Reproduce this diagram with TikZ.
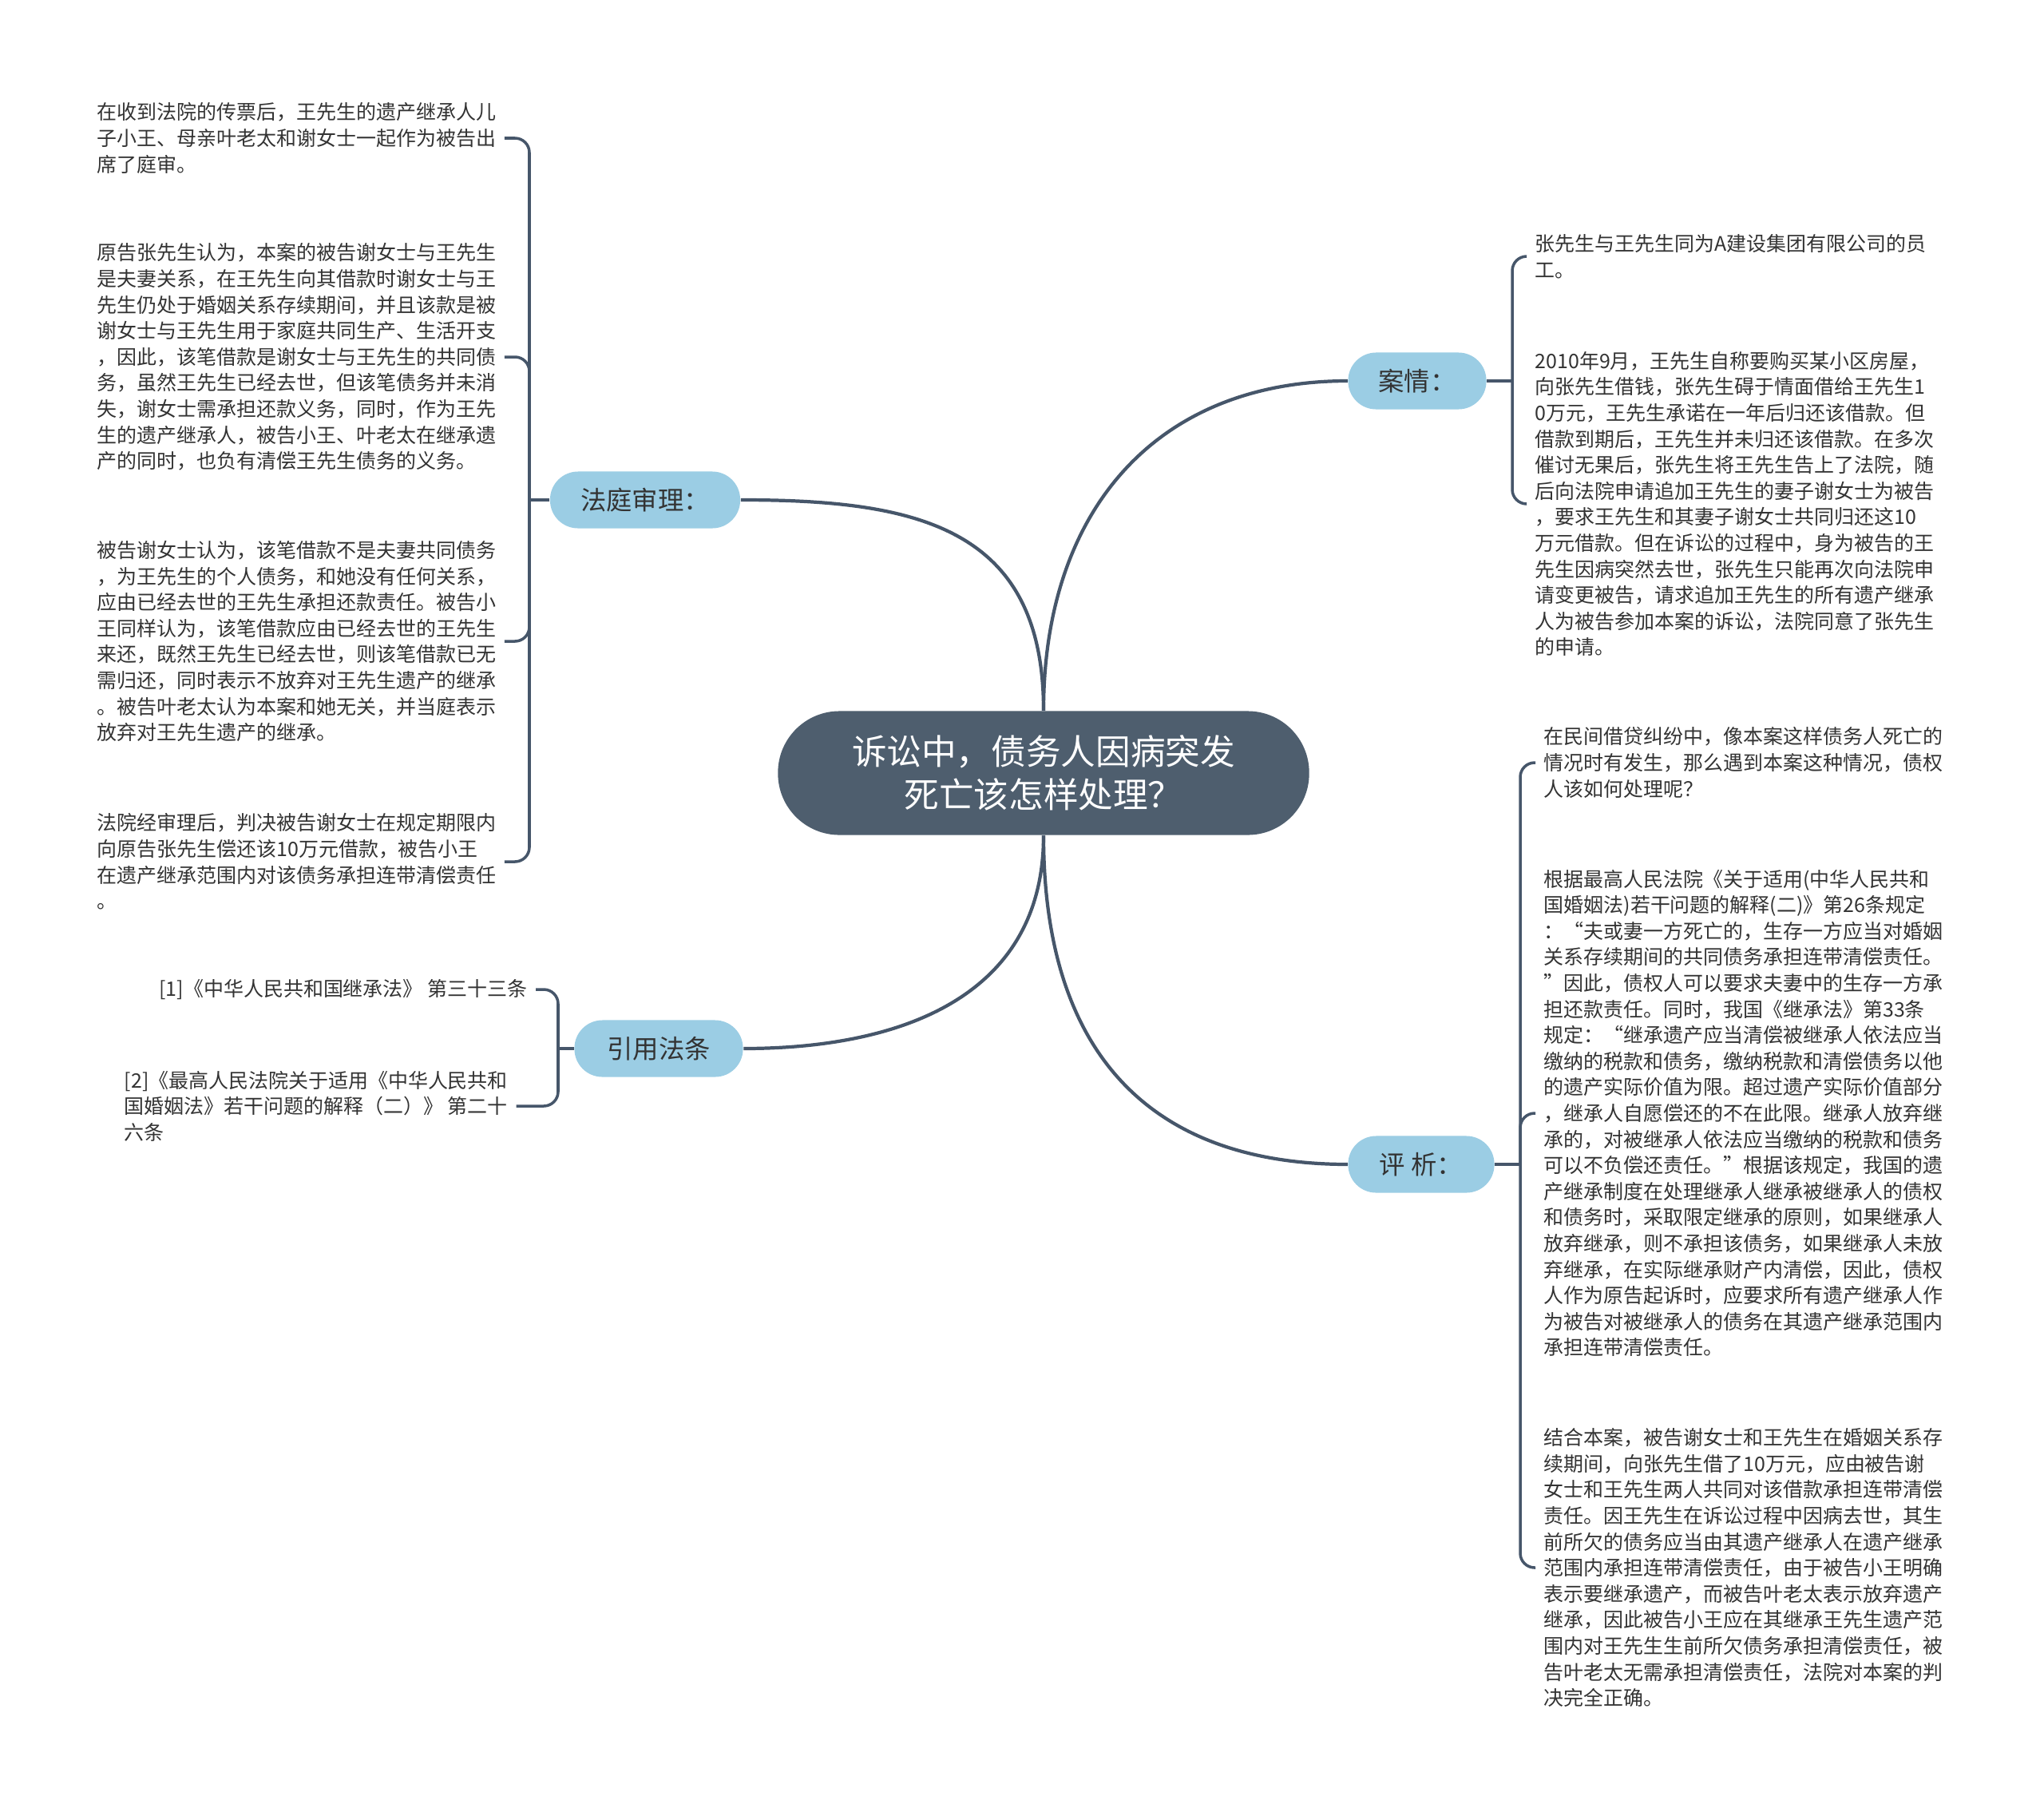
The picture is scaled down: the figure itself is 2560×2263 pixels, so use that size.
\documentclass[tikz,border=0pt]{standalone}
\usepackage{fontspec}
\setmainfont{Noto Sans CJK SC}
\usepackage{xcolor}
\usepackage{tikz}
\usetikzlibrary{calc}
\definecolor{rootslate}{HTML}{4E5E6E}
\definecolor{topicblue}{HTML}{9BCDE4}
\definecolor{linkgray}{HTML}{46566A}
\definecolor{inktext}{HTML}{333333}

\begin{document}
\begin{tikzpicture}[
  x=0.01cm, y=-0.01cm,
  root/.style={rectangle,rounded corners=0.77cm,fill=rootslate,text=white,align=center,
    minimum width=6.65cm,minimum height=1.55cm,font=\fontsize{12.4pt}{15.3pt}\selectfont},
  topic/.style={rectangle,rounded corners=0.35cm,fill=topicblue,text=inktext,
    minimum height=0.71cm,inner sep=0pt,font=\fontsize{9.2pt}{11pt}\selectfont},
  leaf/.style={align=left,inner sep=0.1cm,text=inktext,font=\fontsize{7.1pt}{9.27pt}\selectfont},
  link/.style={draw=linkgray,line width=1.2pt},
  twig/.style={draw=linkgray,line width=1pt,rounded corners=0.18cm}
]
\fill[white] (0,0) rectangle (2560,2263);

% centre and main topics
\node[root] (q) at (1307,968) {诉讼中，债务人因病突发\\死亡该怎样处理？};
\node[topic,minimum width=2.38cm] (trial) at (808,626) {法庭审理：};
\node[topic,minimum width=2.11cm] (laws) at (825,1313) {引用法条};
\node[topic,minimum width=1.73cm] (facts) at (1775,477) {案情：};
\node[topic,minimum width=1.83cm] (review) at (1780,1458) {评 析：};

\draw[link] (q.north) .. controls +(0,-230) and +(220,0) .. (trial.east);
\draw[link] (q.north) .. controls +(0,-250) and +(-240,0) .. (facts.west);
\draw[link] (q.south) .. controls +(0,200) and +(200,0) .. (laws.east);
\draw[link] (q.south) .. controls +(0,280) and +(-240,0) .. (review.west);

% 法庭审理
\node[leaf,anchor=west] (trial1) at (111,173) {在收到法院的传票后，王先生的遗产继承人儿\\
子小王、母亲叶老太和谢女士一起作为被告出\\
席了庭审。};
\node[leaf,anchor=west] (trial2) at (111,447) {原告张先生认为，本案的被告谢女士与王先生\\
是夫妻关系，在王先生向其借款时谢女士与王\\
先生仍处于婚姻关系存续期间，并且该款是被\\
谢女士与王先生用于家庭共同生产、生活开支\\
，因此，该笔借款是谢女士与王先生的共同债\\
务，虽然王先生已经去世，但该笔债务并未消\\
失，谢女士需承担还款义务，同时，作为王先\\
生的遗产继承人，被告小王、叶老太在继承遗\\
产的同时，也负有清偿王先生债务的义务。};
\node[leaf,anchor=west] (trial3) at (111,803) {被告谢女士认为，该笔借款不是夫妻共同债务\\
，为王先生的个人债务，和她没有任何关系，\\
应由已经去世的王先生承担还款责任。被告小\\
王同样认为，该笔借款应由已经去世的王先生\\
来还，既然王先生已经去世，则该笔借款已无\\
需归还，同时表示不放弃对王先生遗产的继承\\
。被告叶老太认为本案和她无关，并当庭表示\\
放弃对王先生遗产的继承。};
\node[leaf,anchor=west] (trial4) at (111,1079) {法院经审理后，判决被告谢女士在规定期限内\\
向原告张先生偿还该10万元借款，被告小王\\
在遗产继承范围内对该债务承担连带清偿责任\\
。};
\coordinate (trialjoin) at (663,626);
\draw[twig] (trial.west) -- (trialjoin);
\foreach \k in {1,...,4}
  \draw[twig] (trialjoin) |- (trial\k.east);

% 引用法条
\node[leaf,anchor=east] (laws1) at (671,1239) {[1]《中华人民共和国继承法》 第三十三条};
\node[leaf,anchor=west] (laws2) at (145,1385) {[2]《最高人民法院关于适用《中华人民共和\\
国婚姻法》若干问题的解释（二）》 第二十\\
六条};
\coordinate (lawsjoin) at (699,1313);
\draw[twig] (laws.west) -- (lawsjoin);
\foreach \k in {1,2}
  \draw[twig] (lawsjoin) |- (laws\k.east);

% 案情
\node[leaf,anchor=west] (facts1) at (1912,321) {张先生与王先生同为A建设集团有限公司的员\\
工。};
\node[leaf,anchor=west] (facts2) at (1912,631) {2010年9月，王先生自称要购买某小区房屋，\\
向张先生借钱，张先生碍于情面借给王先生1\\
0万元，王先生承诺在一年后归还该借款。但\\
借款到期后，王先生并未归还该借款。在多次\\
催讨无果后，张先生将王先生告上了法院，随\\
后向法院申请追加王先生的妻子谢女士为被告\\
，要求王先生和其妻子谢女士共同归还这10\\
万元借款。但在诉讼的过程中，身为被告的王\\
先生因病突然去世，张先生只能再次向法院申\\
请变更被告，请求追加王先生的所有遗产继承\\
人为被告参加本案的诉讼，法院同意了张先生\\
的申请。};
\coordinate (factsjoin) at (1894,477);
\draw[twig] (facts.east) -- (factsjoin);
\foreach \k in {1,2}
  \draw[twig] (factsjoin) |- (facts\k.west);

% 评析
\node[leaf,anchor=west] (review1) at (1923,955) {在民间借贷纠纷中，像本案这样债务人死亡的\\
情况时有发生，那么遇到本案这种情况，债权\\
人该如何处理呢？};
\node[leaf,anchor=west] (review2) at (1923,1394) {根据最高人民法院《关于适用(中华人民共和\\
国婚姻法)若干问题的解释(二)》第26条规定\\
：“夫或妻一方死亡的，生存一方应当对婚姻\\
关系存续期间的共同债务承担连带清偿责任。\\
”因此，债权人可以要求夫妻中的生存一方承\\
担还款责任。同时，我国《继承法》第33条\\
规定：“继承遗产应当清偿被继承人依法应当\\
缴纳的税款和债务，缴纳税款和清偿债务以他\\
的遗产实际价值为限。超过遗产实际价值部分\\
，继承人自愿偿还的不在此限。继承人放弃继\\
承的，对被继承人依法应当缴纳的税款和债务\\
可以不负偿还责任。”根据该规定，我国的遗\\
产继承制度在处理继承人继承被继承人的债权\\
和债务时，采取限定继承的原则，如果继承人\\
放弃继承，则不承担该债务，如果继承人未放\\
弃继承，在实际继承财产内清偿，因此，债权\\
人作为原告起诉时，应要求所有遗产继承人作\\
为被告对被继承人的债务在其遗产继承范围内\\
承担连带清偿责任。};
\node[leaf,anchor=west] (review3) at (1923,1963) {结合本案，被告谢女士和王先生在婚姻关系存\\
续期间，向张先生借了10万元，应由被告谢\\
女士和王先生两人共同对该借款承担连带清偿\\
责任。因王先生在诉讼过程中因病去世，其生\\
前所欠的债务应当由其遗产继承人在遗产继承\\
范围内承担连带清偿责任，由于被告小王明确\\
表示要继承遗产，而被告叶老太表示放弃遗产\\
继承，因此被告小王应在其继承王先生遗产范\\
围内对王先生生前所欠债务承担清偿责任，被\\
告叶老太无需承担清偿责任，法院对本案的判\\
决完全正确。};
\coordinate (reviewjoin) at (1904,1458);
\draw[twig] (review.east) -- (reviewjoin);
\foreach \k in {1,2,3}
  \draw[twig] (reviewjoin) |- (review\k.west);
\end{tikzpicture}
\end{document}
